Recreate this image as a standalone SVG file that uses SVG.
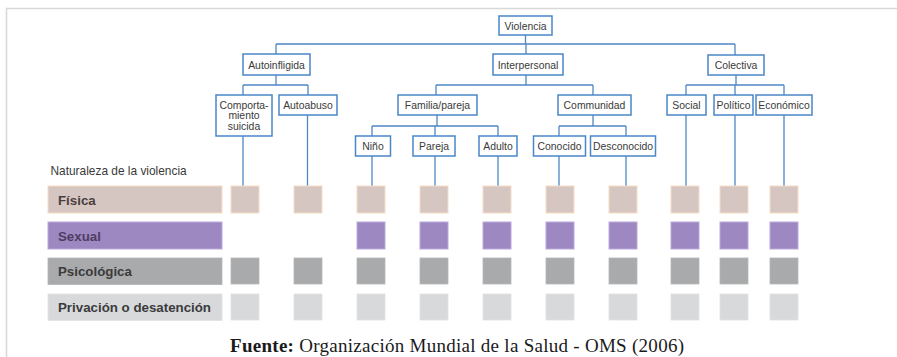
<svg xmlns="http://www.w3.org/2000/svg" width="897" height="357" viewBox="0 0 897 357">
<style>
.bx{fill:#fff;stroke:#4a86c8;stroke-width:1.5}
.t{font-family:"Liberation Sans",Arial,sans-serif;font-size:10.4px;fill:#3a3a3a;text-anchor:middle}
.ln{fill:none;stroke:#4f87c5;stroke-width:1.3}
.fis{fill:#d6c6c1;stroke:#f6dcc4;stroke-width:1}
.sex{fill:#9e88c2;stroke:#b9a9dc;stroke-width:1}
.psi{fill:#a9aaac;stroke:#b5b6b8;stroke-width:0.8}
.pri{fill:#d8d9db;stroke:#e0e1e3;stroke-width:0.8}
.lb{font-family:"Liberation Sans",Arial,sans-serif;font-size:13.3px;font-weight:bold;fill:#3b3b3b}
</style>
<rect width="897" height="357" fill="#fff"/>
<path d="M6.5 357V8.5H897" fill="none" stroke="#d8d8d8" stroke-width="1.5"/>

<g id="connectors">
<path class="ln" d="M525.5 35V44M276 44H735M276 44V54M526 44V54M735 44V55"/>
<path class="ln" d="M276 75V85M243 85H308M243 85V95M308 85V95"/>
<path class="ln" d="M526 75V85M436 85H593M436 85V95M593 85V95"/>
<path class="ln" d="M736 75V85M686 85H784M686 85V95M784 85V95M735 85V95"/>
<path class="ln" d="M437 115V126M372 126H498M372 126V136M435 126V136M498 126V136"/>
<path class="ln" d="M593 115V126M559 126H626M559 126V136M626 126V136"/>
<path class="ln" d="M243 136V186M307.5 115V186M372 156V186M435 156V186M498 156V186M559 156V186M626 156V186M686 115V186M735 115V186M784 115V186"/>
</g>

<g id="n-violencia"><rect class="bx" x="499" y="16" width="53" height="19"/><text class="t" x="525.5" y="29.5">Violencia</text></g>
<g id="n-autoinfligida"><rect class="bx" x="243" y="54" width="67" height="21"/><text class="t" x="276.5" y="68.5">Autoinfligida</text></g>
<g id="n-interpersonal"><rect class="bx" x="493" y="54" width="70" height="21"/><text class="t" x="528" y="68.5">Interpersonal</text></g>
<g id="n-colectiva"><rect class="bx" x="708" y="55" width="56" height="20"/><text class="t" x="736" y="69">Colectiva</text></g>

<g id="n-comportamiento"><rect class="bx" x="216" y="95" width="56" height="41"/><text class="t" x="244" y="109">Comporta-</text><text class="t" x="244" y="119.3">miento</text><text class="t" x="244" y="129.6">suicida</text></g>
<g id="n-autoabuso"><rect class="bx" x="279" y="95" width="58" height="20"/><text class="t" x="308" y="108.7">Autoabuso</text></g>
<g id="n-familia"><rect class="bx" x="398" y="95" width="79" height="20"/><text class="t" x="437.5" y="108.7">Familia/pareja</text></g>
<g id="n-communidad"><rect class="bx" x="558" y="95" width="73" height="20"/><text class="t" x="594.5" y="108.7">Communidad</text></g>
<g id="n-social"><rect class="bx" x="667" y="95" width="39" height="20"/><text class="t" x="686.5" y="108.7">Social</text></g>
<g id="n-politico"><rect class="bx" x="714" y="95" width="39" height="20"/><text class="t" x="733.5" y="108.7">Político</text></g>
<g id="n-economico"><rect class="bx" x="756" y="95" width="56" height="20"/><text class="t" x="784" y="108.7">Económico</text></g>

<g id="n-nino"><rect class="bx" x="355.5" y="136" width="35" height="20"/><text class="t" x="373" y="149.7">Niño</text></g>
<g id="n-pareja"><rect class="bx" x="413" y="136" width="42" height="20"/><text class="t" x="434" y="149.7">Pareja</text></g>
<g id="n-adulto"><rect class="bx" x="479" y="136" width="38" height="20"/><text class="t" x="498" y="149.7">Adulto</text></g>
<g id="n-conocido"><rect class="bx" x="533.5" y="136" width="52" height="20"/><text class="t" x="559.5" y="149.7">Conocido</text></g>
<g id="n-desconocido"><rect class="bx" x="590.5" y="136" width="65" height="20"/><text class="t" x="623" y="149.7">Desconocido</text></g>

<g id="legend">
<text x="50.5" y="174.5" font-family="'Liberation Sans',Arial,sans-serif" font-size="11.9" fill="#3a3a3a">Naturaleza de la violencia</text>
<rect class="fis" x="48" y="186" width="174" height="27"/>
<text class="lb" x="58" y="204.5" style="fill:#4a3f3d">Física</text>
<rect class="sex" x="48" y="222" width="174" height="27"/>
<text class="lb" x="58" y="240.5" style="fill:#4e3e62">Sexual</text>
<rect class="psi" x="48" y="258" width="174" height="26.5"/>
<text class="lb" x="58" y="276">Psicológica</text>
<rect class="pri" x="48" y="294" width="174" height="26.5"/>
<text class="lb" x="58" y="312" textLength="153" lengthAdjust="spacingAndGlyphs">Privación o desatención</text>
</g>

<g id="grid">
<g class="fis">
<rect x="231" y="186" width="28" height="27"/><rect x="294" y="186" width="28" height="27"/><rect x="357" y="186" width="28" height="27"/><rect x="420" y="186" width="28" height="27"/><rect x="483" y="186" width="28" height="27"/><rect x="546" y="186" width="28" height="27"/><rect x="609" y="186" width="28" height="27"/><rect x="671" y="186" width="28" height="27"/><rect x="720" y="186" width="28" height="27"/><rect x="770" y="186" width="28" height="27"/>
</g>
<g class="sex">
<rect x="357" y="222" width="28" height="27"/><rect x="420" y="222" width="28" height="27"/><rect x="483" y="222" width="28" height="27"/><rect x="546" y="222" width="28" height="27"/><rect x="609" y="222" width="28" height="27"/><rect x="671" y="222" width="28" height="27"/><rect x="720" y="222" width="28" height="27"/><rect x="770" y="222" width="28" height="27"/>
</g>
<g class="psi">
<rect x="231" y="258" width="28" height="26"/><rect x="294" y="258" width="28" height="26"/><rect x="357" y="258" width="28" height="26"/><rect x="420" y="258" width="28" height="26"/><rect x="483" y="258" width="28" height="26"/><rect x="546" y="258" width="28" height="26"/><rect x="609" y="258" width="28" height="26"/><rect x="671" y="258" width="28" height="26"/><rect x="720" y="258" width="28" height="26"/><rect x="770" y="258" width="28" height="26"/>
</g>
<g class="pri">
<rect x="231" y="294" width="28" height="26"/><rect x="294" y="294" width="28" height="26"/><rect x="357" y="294" width="28" height="26"/><rect x="420" y="294" width="28" height="26"/><rect x="483" y="294" width="28" height="26"/><rect x="546" y="294" width="28" height="26"/><rect x="609" y="294" width="28" height="26"/><rect x="671" y="294" width="28" height="26"/><rect x="720" y="294" width="28" height="26"/><rect x="770" y="294" width="28" height="26"/>
</g>
</g>

<text x="230" y="351.5" font-family="'Liberation Serif','Times New Roman',serif" font-size="19" fill="#1a1a1a" textLength="454" lengthAdjust="spacing"><tspan font-weight="bold">Fuente:</tspan> Organización Mundial de la Salud - OMS (2006)</text>
</svg>
